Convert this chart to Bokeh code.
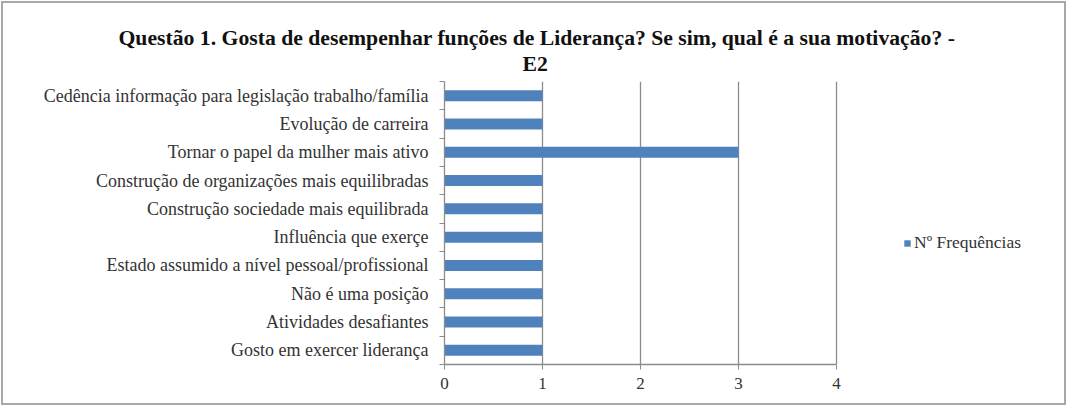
from bokeh.plotting import figure
from bokeh.models import (Range1d, FixedTicker, LinearAxis, Title, Legend, LegendItem,
                          ColumnDataSource)
from bokeh.embed import file_html
from bokeh.resources import INLINE

# Data (bottom to top)
categories = [
    "Gosto em exercer liderança",
    "Atividades desafiantes",
    "Não é uma posição",
    "Estado assumido a nível pessoal/profissional",
    "Influência que exerçe",
    "Construção sociedade mais equilibrada",
    "Construção de organizações mais equilibradas",
    "Tornar o papel da mulher mais ativo",
    "Evolução de carreira",
    "Cedência informação para legislação trabalho/família",
]
frequencias = [1, 1, 1, 1, 1, 1, 1, 3, 1, 1]
x_ticks = [0, 1, 2, 3, 4]
series_name = "Nº Frequências"
title_line1 = "Questão 1. Gosta de desempenhar funções de Liderança? Se sim, qual é a sua motivação? -"
title_line2 = "E2"

SERIF = "Liberation Serif"
BAR = "#4F81BD"
GRID = "#8c8c8c"
TXT = "#333333"
TITLE = "#111111"

n = len(categories)
ypos = [i + 0.5 for i in range(n)]
src = ColumnDataSource(dict(y=ypos, v=frequencias, cat=categories))

W, H = 1065, 404
FL, FT, FB = 441, 78, 361          # frame edges inside canvas
AXIS_PX = 392                       # pixel length of the 0..4 value axis
RIGHT_PAD = 2
frame_w = W - FL - RIGHT_PAD
x_end = x_ticks[-1] * frame_w / AXIS_PX   # frame extends right to host the legend

p = figure(width=W, height=H, output_backend="svg", toolbar_location=None,
           x_range=Range1d(0, x_end), y_range=Range1d(0, n),
           min_border_left=FL, min_border_right=RIGHT_PAD, min_border_top=FT,
           min_border_bottom=H - FB, x_axis_location=None, y_axis_location=None,
           styles={"border": "2px solid #a8a8a8", "margin": "1px 0 0 1px"})
p.title.visible = False
p.outline_line_color = None
p.background_fill_color = "white"
p.border_fill_color = "white"

r = p.hbar(y="y", right="v", left=0, height=0.39, source=src,
           fill_color=BAR, line_color=None)

# x axis
xa = LinearAxis(ticker=FixedTicker(ticks=x_ticks), bounds=(x_ticks[0], x_ticks[-1]))
xa.axis_line_color = GRID
xa.axis_line_width = 1.3
xa.major_tick_line_color = GRID
xa.major_tick_out = 5
xa.major_tick_in = 0
xa.minor_tick_line_color = None
xa.major_label_text_font = SERIF
xa.major_label_text_font_size = "17px"
xa.major_label_text_color = TXT
xa.major_label_standoff = 8
p.add_layout(xa, "below")

# y axis: labels at category centres, small ticks at category boundaries
ya = LinearAxis(ticker=FixedTicker(ticks=ypos, minor_ticks=list(range(n + 1))))
ya.major_label_overrides = {y: c for y, c in zip(ypos, categories)}
ya.axis_line_color = GRID
ya.axis_line_width = 1.3
ya.major_tick_line_color = None
ya.major_tick_out = 0
ya.major_tick_in = 0
ya.minor_tick_line_color = GRID
ya.minor_tick_out = 5
ya.minor_tick_in = 0
ya.major_label_text_font = SERIF
ya.major_label_text_font_size = "18px"
ya.major_label_text_color = TXT
ya.major_label_standoff = 11
p.add_layout(ya, "left")

p.xgrid.ticker = FixedTicker(ticks=x_ticks[1:])
p.xgrid.grid_line_color = GRID
p.xgrid.grid_line_width = 1.3
p.ygrid.grid_line_color = None

# two-line title
t2 = Title(text=title_line2, align="left", offset=78, standoff=12, text_font=SERIF,
           text_font_size="21.7px", text_font_style="bold", text_color=TITLE)
t1 = Title(text=title_line1, align="left", offset=-326, standoff=-13, text_font=SERIF,
           text_font_size="21.7px", text_font_style="bold", text_color=TITLE)
p.add_layout(t2, "above")
p.add_layout(t1, "above")

legend = Legend(items=[LegendItem(label=series_name, renderers=[r])],
                location=(459, 111), orientation="vertical",
                label_text_font=SERIF, label_text_font_size="17.5px",
                label_text_color=TXT, glyph_width=8, glyph_height=8,
                border_line_color=None, background_fill_alpha=0,
                label_standoff=3, padding=0, margin=0)
p.add_layout(legend, "center")

open("out.html", "w").write(file_html(p, INLINE))
